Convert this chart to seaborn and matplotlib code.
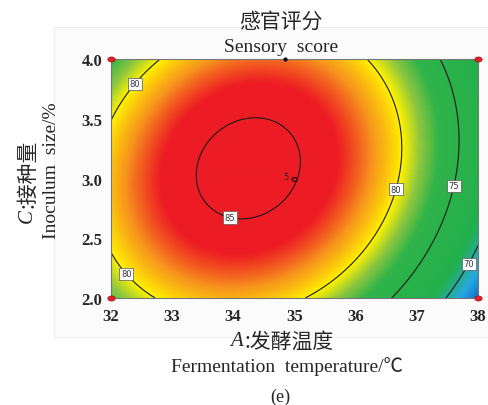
import numpy as np
import matplotlib
matplotlib.use("Agg")
import matplotlib.pyplot as plt
import seaborn as sns
from matplotlib.colors import LinearSegmentedColormap
from matplotlib.patches import Rectangle
from matplotlib.path import Path
from matplotlib.transforms import Affine2D

# Factor ranges (A: fermentation temperature, C: inoculum size)
temp_range = [32, 38]
inoc_range = [2.0, 4.0]
x_ticks = [32, 33, 34, 35, 36, 37, 38]
y_ticks = [2.0, 2.5, 3.0, 3.5, 4.0]

# Quadratic response model (coded units)
peak_score = 85.65
peak_a, peak_c = -0.25, 0.085
curv_a, curv_c = 8.25, 3.7
inter_ac = 1.5

levels = [70, 75, 80, 85]
label_pos = [(32.36, 3.81), (32.3, 2.22), (36.6, 2.92), (37.5, 2.95), (37.73, 2.32), (33.97, 2.72)]

# design points
corner_a = [32, 32, 38, 38]
corner_c = [2.0, 4.0, 2.0, 4.0]
center_pt = (35.0, 3.0)
edge_pt = (34.85, 4.0)

# colour anchors (score, colour)
cmap_scores = [66.0, 68.5, 71.5, 77.0, 78.6, 80.0, 82.0, 83.8, 86.0]
cmap_colors = ["#0a5fc4", "#27a9e1", "#22b04c", "#30b44a", "#8dc63f",
               "#fff200", "#f7941d", "#ed1c24", "#ed1c24"]

sns.set_style("white")
plt.rcParams["font.family"] = ["Liberation Serif", "Noto Sans CJK SC"]
CJK = ["Noto Sans CJK SC"]

A = np.linspace(temp_range[0], temp_range[1], 400)
C = np.linspace(inoc_range[0], inoc_range[1], 300)
AA, CC = np.meshgrid(A, C)
da = (AA - 35) / 3 - peak_a
dc = (CC - 3) / 1 - peak_c
Z = peak_score - curv_a * da**2 - curv_c * dc**2 + inter_ac * da * dc

lo, hi = cmap_scores[0], cmap_scores[-1]
cmap = LinearSegmentedColormap.from_list(
    "de", [((s - lo) / (hi - lo), c) for s, c in zip(cmap_scores, cmap_colors)])

oval = Path.unit_circle().transformed(Affine2D().scale(1.45, 1.0))

fig = plt.figure(figsize=(4.88, 4.06), dpi=100)
fig.patches.append(Rectangle((54 / 488, 1 - 338 / 406), 434 / 488, 310 / 406,
                             transform=fig.transFigure, fc="#fbfbfb", ec="#f0f0f0",
                             lw=0.8, zorder=-5))
ax = fig.add_axes([110.5 / 488, 1 - 299 / 406, 367.5 / 488, 239 / 406])

ax.imshow(Z, origin="lower", extent=[*temp_range, *inoc_range], aspect="auto",
          cmap=cmap, vmin=lo, vmax=hi, interpolation="bilinear")
cs = ax.contour(AA, CC, Z, levels=levels, colors="#1a1a1a", linewidths=0.8)
ax.clabel(cs, fmt="%d", fontsize=6, inline=False, manual=label_pos)
for t in cs.labelTexts:
    t.set_color("#333333")
    t.set_rotation(0)
    t.set_family("DejaVu Sans")
    t.set_bbox(dict(boxstyle="square,pad=0.2", fc="white", ec="#555555", lw=0.5))

ax.scatter(corner_a, corner_c, s=28, marker=oval, c="#e3202a", edgecolors="#9a1010",
           linewidths=0.5, clip_on=False, zorder=5)
ax.scatter([center_pt[0]], [center_pt[1]], s=14, marker=oval, facecolors="#ed1c24",
           edgecolors="black", linewidths=0.7, zorder=5)
ax.scatter([edge_pt[0]], [edge_pt[1]], s=4, c="black", clip_on=False, zorder=5)
ax.text(center_pt[0] - 0.1, center_pt[1] + 0.02, "5", fontsize=6, ha="right",
        va="center", family="DejaVu Sans")

ax.set_xlim(temp_range)
ax.set_ylim(inoc_range)
ax.set_xticks(x_ticks)
ax.set_yticks(y_ticks)
ax.set_xticklabels([str(v) for v in x_ticks], fontsize=12, fontweight="bold")
ax.set_yticklabels([f"{v:.1f}" for v in y_ticks], fontsize=12, fontweight="bold")
ax.tick_params(direction="in", length=5, width=0.8, color="#222222")
ax.tick_params(axis="x", pad=7)
ax.tick_params(axis="y", pad=6)
for s in ax.spines.values():
    s.set_color("#777777")
    s.set_linewidth(0.8)

# titles
fig.text(281 / 488, 1 - 22 / 406, "感官评分", fontsize=15, ha="center", va="center",
         family=CJK)
fig.text(281 / 488, 1 - 47 / 406, "Sensory  score", fontsize=14, ha="center", va="center")

# x axis labels
fig.text(230 / 488, 1 - 342 / 406, "A", fontsize=15, style="italic",
         ha="left", va="center")
fig.text(245 / 488, 1 - 342 / 406, ":发酵温度", fontsize=15, ha="left", va="center",
         family=CJK)
fig.text(287 / 488, 1 - 367 / 406, "Fermentation  temperature/℃", fontsize=14,
         ha="center", va="center")
fig.text(280 / 488, 1 - 397 / 406, "(e)", fontsize=13, ha="center", va="center")

# y axis labels
fig.text(27 / 488, 1 - 223 / 406, "C", fontsize=15, style="italic", rotation=90,
         ha="center", va="bottom")
fig.text(27 / 488, 1 - 208 / 406, ":接种量", fontsize=15, rotation=90,
         ha="center", va="bottom", family=CJK)
fig.text(52 / 488, 1 - 171 / 406, "Inoculum  size/%", fontsize=14, rotation=90,
         ha="center", va="center")

fig.savefig("out.png", dpi=100)
